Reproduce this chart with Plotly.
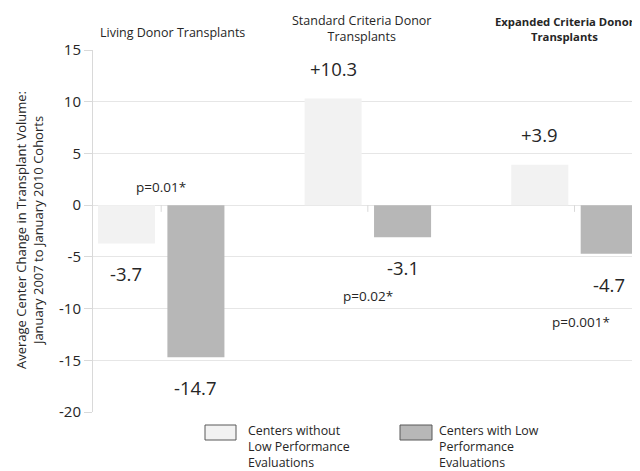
import plotly.graph_objects as go

# ---- data ----
categories = ["Living Donor Transplants", "Standard Criteria Donor<br>Transplants", "Expanded Criteria Donor<br>Transplants"]
without_low = [-3.7, 10.3, 3.9]
with_low = [-14.7, -3.1, -4.7]
p_values = ["p=0.01*", "p=0.02*", "p=0.001*"]
series_names = ["Centers without<br>Low Performance<br>Evaluations", "Centers with Low<br>Performance<br>Evaluations"]
y_ticks = [15, 10, 5, 0, -5, -10, -15, -20]

# ---- layout geometry (page has an 8px body margin) ----
OFF = 8
W, H = 640 - OFF, 471 - OFF
L, R, T = 93 - OFF, 0, 50 - OFF
B = H - (412 - OFF)
PW, PH = W - L - R, H - T - B

def px(x):
    return (x - OFF - L) / PW

def py(y):
    return (H - B - (y - OFF)) / PH

LIGHT = "#f2f2f2"
DARK = "#b7b7b7"
TEXT = "#262626"
GRID = "#e6e6e6"
FONT = "Open Sans"

idx = list(range(len(categories)))
bw = 0.276
off = 0.168

fig = go.Figure()
fig.add_trace(go.Bar(x=idx, y=without_low, width=bw, offset=-off - bw / 2,
                     marker=dict(color=LIGHT, line=dict(width=0)), showlegend=False,
                     name=series_names[0]))
fig.add_trace(go.Bar(x=idx, y=with_low, width=bw, offset=off - bw / 2,
                     marker=dict(color=DARK, line=dict(width=0)), showlegend=False,
                     name=series_names[1]))

ann = []
def fmt(v):
    return ("+%.1f" % v) if v > 0 else ("%.1f" % v)

for xs, vals in ((-off, without_low), (off, with_low)):
    for i, v in enumerate(vals):
        ann.append(dict(x=i + xs, y=v, xref="x", yref="y", text=fmt(v), showarrow=False,
                        yanchor="bottom" if v > 0 else "top", yshift=16 if v > 0 else -16,
                        font=dict(size=18.5, color=TEXT, family=FONT)))

# p-value labels (positions in data coords)
p_pos = [(0.0, 1.8), (1.0, -8.8), (2.03, -11.3)]
for t, (xx, yy) in zip(p_values, p_pos):
    ann.append(dict(x=xx, y=yy, xref="x", yref="y", text=t, showarrow=False,
                    font=dict(size=13.5, color=TEXT, family=FONT)))

# category headers
head_x = [0.057, 0.967, 1.952]
head_y = [32, 29, 29]
head_size = [12.5, 12.5, 11.3]
for i, c in enumerate(categories):
    txt = "<b>" + c + "</b>" if i == 2 else c
    ann.append(dict(x=head_x[i], y=py(head_y[i]), xref="x", yref="paper", text=txt,
                    showarrow=False, yanchor="middle",
                    font=dict(size=head_size[i], color=TEXT, family=FONT)))

# y-axis title
ann.append(dict(x=px(30), y=py(230), xref="paper", yref="paper", xanchor="center", yanchor="middle",
                text="Average Center Change in Transplant Volume:<br>January 2007 to January 2010 Cohorts",
                textangle=-90, showarrow=False, font=dict(size=13, color=TEXT, family=FONT)))

# legend text
for xl, name in ((247, series_names[0]), (438, series_names[1])):
    ann.append(dict(x=px(xl), y=py(472), xref="paper", yref="paper", text=name,
                    xanchor="left", yanchor="bottom", align="left", showarrow=False,
                    borderpad=0, font=dict(size=12.4, color=TEXT, family=FONT)))

shapes = [
    dict(type="rect", xref="paper", yref="paper", x0=px(205), x1=px(236), y0=py(440), y1=py(425),
         fillcolor=LIGHT, line=dict(color="#595959", width=1)),
    dict(type="rect", xref="paper", yref="paper", x0=px(400), x1=px(432), y0=py(440), y1=py(425),
         fillcolor=DARK, line=dict(color="#595959", width=1)),
]
for i in idx:
    shapes.append(dict(type="line", xref="x", yref="y", x0=i, x1=i, y0=0, y1=-0.65,
                       line=dict(color="#d9d9d9", width=1)))

fig.update_layout(
    width=W, height=H,
    margin=dict(l=L, r=R, t=T, b=B),
    plot_bgcolor="white", paper_bgcolor="white",
    barmode="overlay",
    annotations=ann, shapes=shapes,
    xaxis=dict(range=[-0.330, 2.317], showgrid=False, zeroline=False, showticklabels=False,
               ticks="", showline=False),
    yaxis=dict(range=[-20, 15], tickvals=y_ticks, ticktext=[str(v) for v in y_ticks],
               showgrid=True, gridcolor=GRID, gridwidth=1,
               zeroline=True, zerolinecolor=GRID, zerolinewidth=1,
               showline=True, linecolor="#d9d9d9", linewidth=1,
               ticks="outside", ticklen=8, tickcolor="#d9d9d9",
               tickfont=dict(size=15, color=TEXT, family=FONT)),
    font=dict(family=FONT, color=TEXT),
)

fig.write_html("out.html")
